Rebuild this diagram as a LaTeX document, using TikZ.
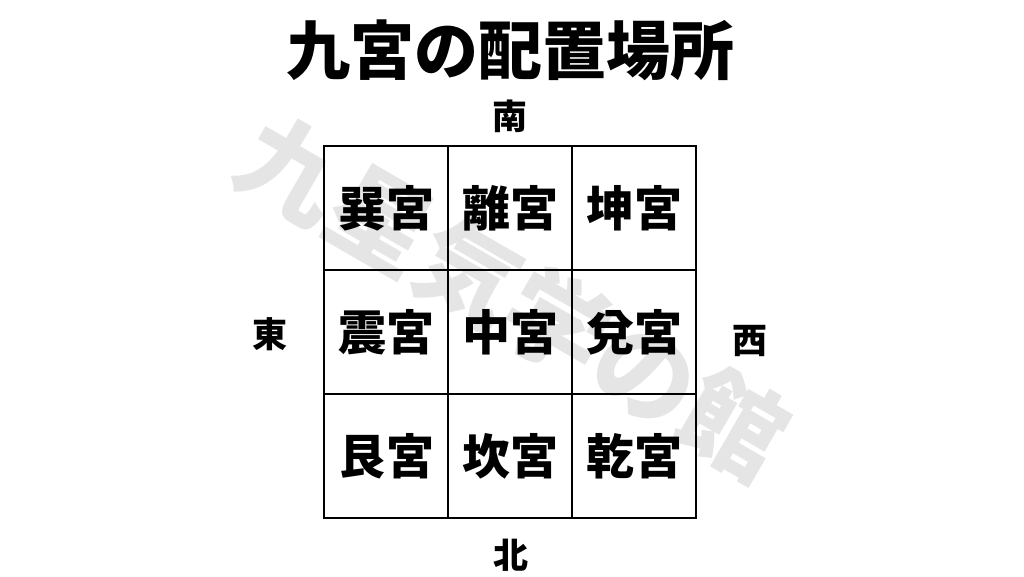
\documentclass[tikz,border=0pt]{standalone}
\usepackage{fontspec}
\setmainfont{Noto Sans CJK JP}
\newfontfamily\jp{Noto Sans CJK JP}
\tikzset{
  cell/.style={draw=black, line width=1.6pt, minimum width=124pt, minimum height=124pt, inner sep=0pt, font=\jp\bfseries\fontsize{48}{48}\selectfont},
  dir/.style={inner sep=0pt, font=\jp\bfseries\fontsize{35}{35}\selectfont},
  wm/.style={inner sep=0pt, text=black!10, font=\jp\bfseries\fontsize{102}{102}\selectfont}
}
\begin{document}
\begin{tikzpicture}[x=1pt,y=-1pt]
\useasboundingbox (0,0) rectangle (1024,576);
\fill[white] (0,0) rectangle (1024,576);
\node[wm, rotate=-30] (wmark) at (513,298) {九星気学の館};
\node[inner sep=0pt, font=\jp\bfseries\fontsize{64}{64}\selectfont] (title) at (510,50) {九宮の配置場所};
\node[cell] (c11) at (386,208) {巽宮};
\node[cell] (c12) at (510,208) {離宮};
\node[cell] (c13) at (634,208) {坤宮};
\node[cell] (c21) at (386,332) {震宮};
\node[cell] (c22) at (510,332) {中宮};
\node[cell] (c23) at (634,332) {兌宮};
\node[cell] (c31) at (386,456) {艮宮};
\node[cell] (c32) at (510,456) {坎宮};
\node[cell] (c33) at (634,456) {乾宮};
\node[dir] (south) at (510,116) {南};
\node[dir] (north) at (511,555) {北};
\node[dir] (east) at (270,334) {東};
\node[dir] (west) at (750,341) {西};
\end{tikzpicture}
\end{document}
